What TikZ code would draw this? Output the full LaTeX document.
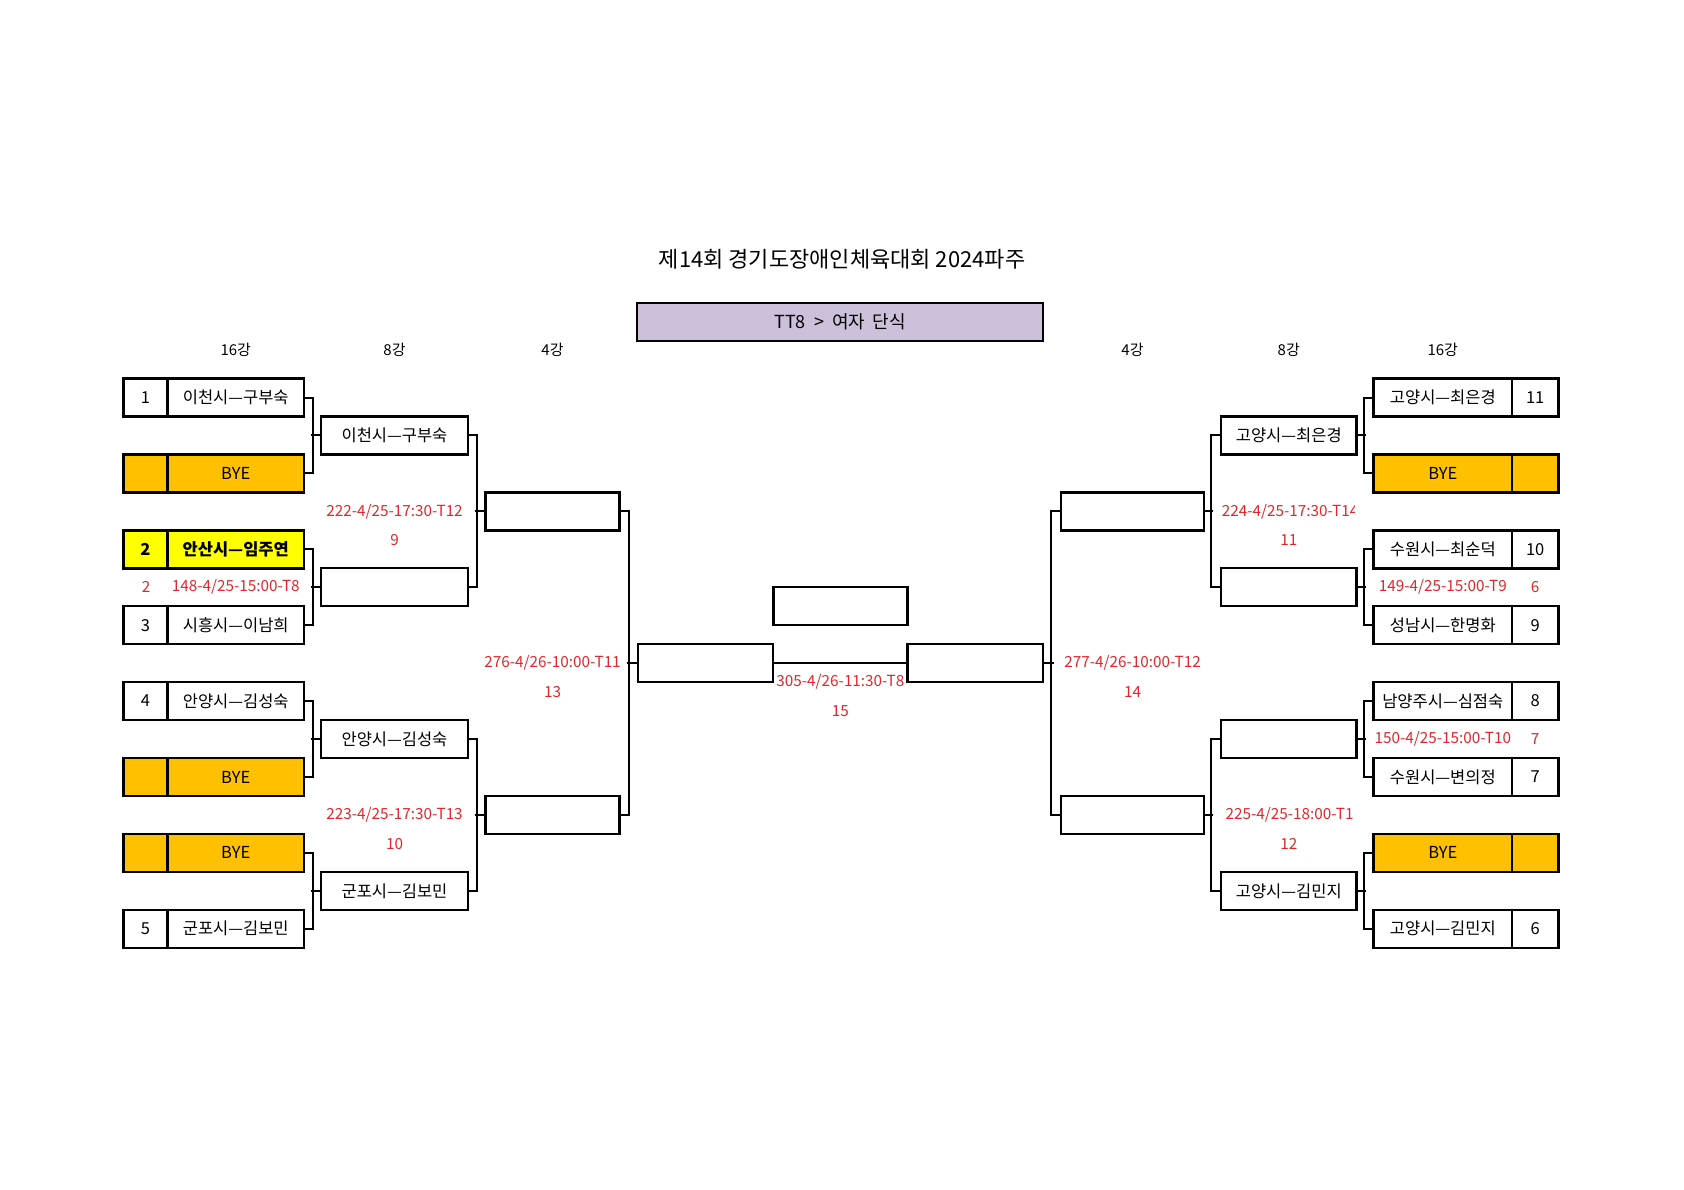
\documentclass[tikz,border=0pt]{standalone}
\usepackage{fontspec}
\setmainfont{Noto Sans CJK KR}
\definecolor{byeor}{HTML}{FFC000}
\definecolor{hiyel}{HTML}{FFFF00}
\definecolor{lav}{HTML}{CCC0DA}
\definecolor{mred}{HTML}{E3262B}
\tikzset{
  cell/.style={draw, line width=2.4pt, minimum height=38pt, inner sep=0pt, anchor=center, font=\fontsize{16.5}{19}\selectfont},
  conn/.style={line width=2pt},
  rt/.style={text=mred, inner sep=0pt, font=\fontsize{15.3}{18}\selectfont},
  hdr/.style={inner sep=0pt, font=\fontsize{15}{18}\selectfont},
}
\begin{document}
\begin{tikzpicture}[x=1pt,y=-1pt]
\useasboundingbox[fill=white] (0,0) rectangle (1684,1190);

% title
\node[inner sep=0pt, font=\fontsize{22}{26}\selectfont] (title) at (842,259) {제14회 경기도장애인체육대회 2024파주};
\node[draw, line width=2.6pt, fill=lav, minimum width=406pt, minimum height=38pt, inner sep=0pt, font=\fontsize{18}{22}\selectfont] (event) at (840,322) {TT8\hspace{0.45em}>\hspace{0.45em}여자\hspace{0.4em}단식};

% headers
\node[hdr] (h1) at (235.75,350) {16강};
\node[hdr] (h2) at (394.5,350) {8강};
\node[hdr] (h3) at (552.5,350) {4강};
\node[hdr] (h4) at (1132.5,350) {4강};
\node[hdr] (h5) at (1288.75,350) {8강};
\node[hdr] (h6) at (1442.8,350) {16강};

% ---------- left 16 ----------
\node[cell, minimum width=44pt] (ln0) at (145.5,397.5) {1};
\node[cell, minimum width=136.5pt] (l0) at (235.75,397.5) {이천시—구부숙};
\node[cell, minimum width=44pt, fill=byeor] (ln1) at (145.5,473.4) {};
\node[cell, minimum width=136.5pt, fill=byeor] (l1) at (235.75,473.4) {BYE};
\node[cell, minimum width=44pt, fill=hiyel, font=\fontsize{16.5}{19}\selectfont\bfseries] (ln2) at (145.5,549.3) {2};
\node[cell, minimum width=136.5pt, fill=hiyel, font=\fontsize{16.5}{19}\selectfont\bfseries] (l2) at (235.75,549.3) {안산시—임주연};
\node[cell, minimum width=44pt] (ln3) at (145.5,625.2) {3};
\node[cell, minimum width=136.5pt] (l3) at (235.75,625.2) {시흥시—이남희};
\node[cell, minimum width=44pt] (ln4) at (145.5,701.1) {4};
\node[cell, minimum width=136.5pt] (l4) at (235.75,701.1) {안양시—김성숙};
\node[cell, minimum width=44pt, fill=byeor] (ln5) at (145.5,777.0) {};
\node[cell, minimum width=136.5pt, fill=byeor] (l5) at (235.75,777.0) {BYE};
\node[cell, minimum width=44pt, fill=byeor] (ln6) at (145.5,852.9) {};
\node[cell, minimum width=136.5pt, fill=byeor] (l6) at (235.75,852.9) {BYE};
\node[cell, minimum width=44pt] (ln7) at (145.5,928.8) {5};
\node[cell, minimum width=136.5pt] (l7) at (235.75,928.8) {군포시—김보민};

% left 8
\node[cell, minimum width=147pt] (lq0) at (394.5,435.45) {이천시—구부숙};
\node[cell, minimum width=147pt] (lq1) at (394.5,587.25) {};
\node[cell, minimum width=147pt] (lq2) at (394.5,739.05) {안양시—김성숙};
\node[cell, minimum width=147pt] (lq3) at (394.5,890.85) {군포시—김보민};

% left 4
\node[cell, minimum width=134.3pt] (ls0) at (552.5,511.35) {};
\node[cell, minimum width=134.3pt] (ls1) at (552.5,814.95) {};

% final area
\node[cell, minimum width=135.3pt] (fl) at (705.6,663.15) {};
\node[cell, minimum width=134.2pt] (win) at (840.4,606) {};
\node[cell, minimum width=135.5pt] (fr) at (975.2,663.15) {};

% right 4
\node[cell, minimum width=143pt] (rs0) at (1132.5,511.35) {};
\node[cell, minimum width=143pt] (rs1) at (1132.5,814.95) {};

% right 8
\node[cell, minimum width=135.5pt] (rq0) at (1288.75,435.45) {고양시—최은경};
\node[cell, minimum width=135.5pt] (rq1) at (1288.75,587.25) {};
\node[cell, minimum width=135.5pt] (rq2) at (1288.75,739.05) {};
\node[cell, minimum width=135.5pt] (rq3) at (1288.75,890.85) {고양시—김민지};

% right 16
\node[cell, minimum width=138.4pt] (r0) at (1442.8,397.5) {고양시—최은경};
\node[cell, minimum width=46.4pt] (rn0) at (1535.2,397.5) {11};
\node[cell, minimum width=138.4pt, fill=byeor] (r1) at (1442.8,473.4) {BYE};
\node[cell, minimum width=46.4pt, fill=byeor] (rn1) at (1535.2,473.4) {};
\node[cell, minimum width=138.4pt] (r2) at (1442.8,549.3) {수원시—최순덕};
\node[cell, minimum width=46.4pt] (rn2) at (1535.2,549.3) {10};
\node[cell, minimum width=138.4pt] (r3) at (1442.8,625.2) {성남시—한명화};
\node[cell, minimum width=46.4pt] (rn3) at (1535.2,625.2) {9};
\node[cell, minimum width=138.4pt] (r4) at (1442.8,701.1) {남양주시—심점숙};
\node[cell, minimum width=46.4pt] (rn4) at (1535.2,701.1) {8};
\node[cell, minimum width=138.4pt] (r5) at (1442.8,777.0) {수원시—변의정};
\node[cell, minimum width=46.4pt] (rn5) at (1535.2,777.0) {7};
\node[cell, minimum width=138.4pt, fill=byeor] (r6) at (1442.8,852.9) {BYE};
\node[cell, minimum width=46.4pt, fill=byeor] (rn6) at (1535.2,852.9) {};
\node[cell, minimum width=138.4pt] (r7) at (1442.8,928.8) {고양시—김민지};
\node[cell, minimum width=46.4pt] (rn7) at (1535.2,928.8) {6};

% ---------- connectors left ----------
\foreach \a/\b/\q in {l0/l1/lq0, l2/l3/lq1, l4/l5/lq2, l6/l7/lq3}{
  \draw[conn] (\a.east) -- ++(8,0) |- (\b.east);
  \draw[conn] (\q.west) -- ++(-9,0);
}
\foreach \a/\b/\q in {lq0/lq1/ls0, lq2/lq3/ls1}{
  \draw[conn] (\a.east) -- ++(7.5,0) |- (\b.east);
  \draw[conn] (\q.west) -- ++(-9.4,0);
}
\draw[conn] (ls0.east) -- ++(8.6,0) |- (ls1.east);
\draw[conn] (fl.west) -- ++(-9.7,0);
\draw[conn] (fl.east) -- (fr.west);
% ---------- connectors right ----------
\draw[conn] (rs0.west) -- ++(-8.5,0) |- (rs1.west);
\draw[conn] (fr.east) -- ++(9.5,0);
\foreach \a/\b/\q in {rq0/rq1/rs0, rq2/rq3/rs1}{
  \draw[conn] (\a.west) -- ++(-8.5,0) |- (\b.west);
  \draw[conn] (\q.east) -- ++(8,0);
}
\foreach \a/\b/\q in {r0/r1/rq0, r2/r3/rq1, r4/r5/rq2, r6/r7/rq3}{
  \draw[conn] (\a.west) -- ++(-8.6,0) |- (\b.west);
  \draw[conn] (\q.east) -- ++(8.5,0);
}

% ---------- red match labels ----------
\node[rt] (a1) at (146,587.25) {2};
\node[rt] (a2) at (235.75,587.25) {148-4/25-15:00-T8};
\node[rt] (a3) at (394.5,511.35) {222-4/25-17:30-T12};
\node[rt] (a4) at (394.5,540.3) {9};
\node[rt] (a5) at (394.5,814.95) {223-4/25-17:30-T13};
\node[rt] (a6) at (394.5,843.9) {10};
\node[rt] (a7) at (552.5,663.15) {276-4/26-10:00-T11};
\node[rt] (a8) at (552.5,692.1) {13};
\node[rt] (a9) at (840.4,682) {305-4/26-11:30-T8};
\node[rt] (a10) at (840.4,711) {15};
\node[rt] (a11) at (1132.5,663.15) {277-4/26-10:00-T12};
\node[rt] (a12) at (1132.5,692.1) {14};
\begin{scope}
  \clip (1221,495) rectangle (1354.5,528);
  \node[rt, anchor=west] (a13) at (1221.7,511.35) {224-4/25-17:30-T14};
\end{scope}
\node[rt] (a14) at (1288.75,540.3) {11};
\begin{scope}
  \clip (1221,800) rectangle (1355,832);
  \node[rt] (a15) at (1289.5,814.95) {225-4/25-18:00-T1};
\end{scope}
\node[rt] (a16) at (1288.75,843.9) {12};
\node[rt] (a17) at (1442.8,587.25) {149-4/25-15:00-T9};
\node[rt] (a18) at (1535.2,587.25) {6};
\node[rt] (a19) at (1442.8,739.05) {150-4/25-15:00-T10};
\node[rt] (a20) at (1535.2,739.05) {7};
\end{tikzpicture}
\end{document}
